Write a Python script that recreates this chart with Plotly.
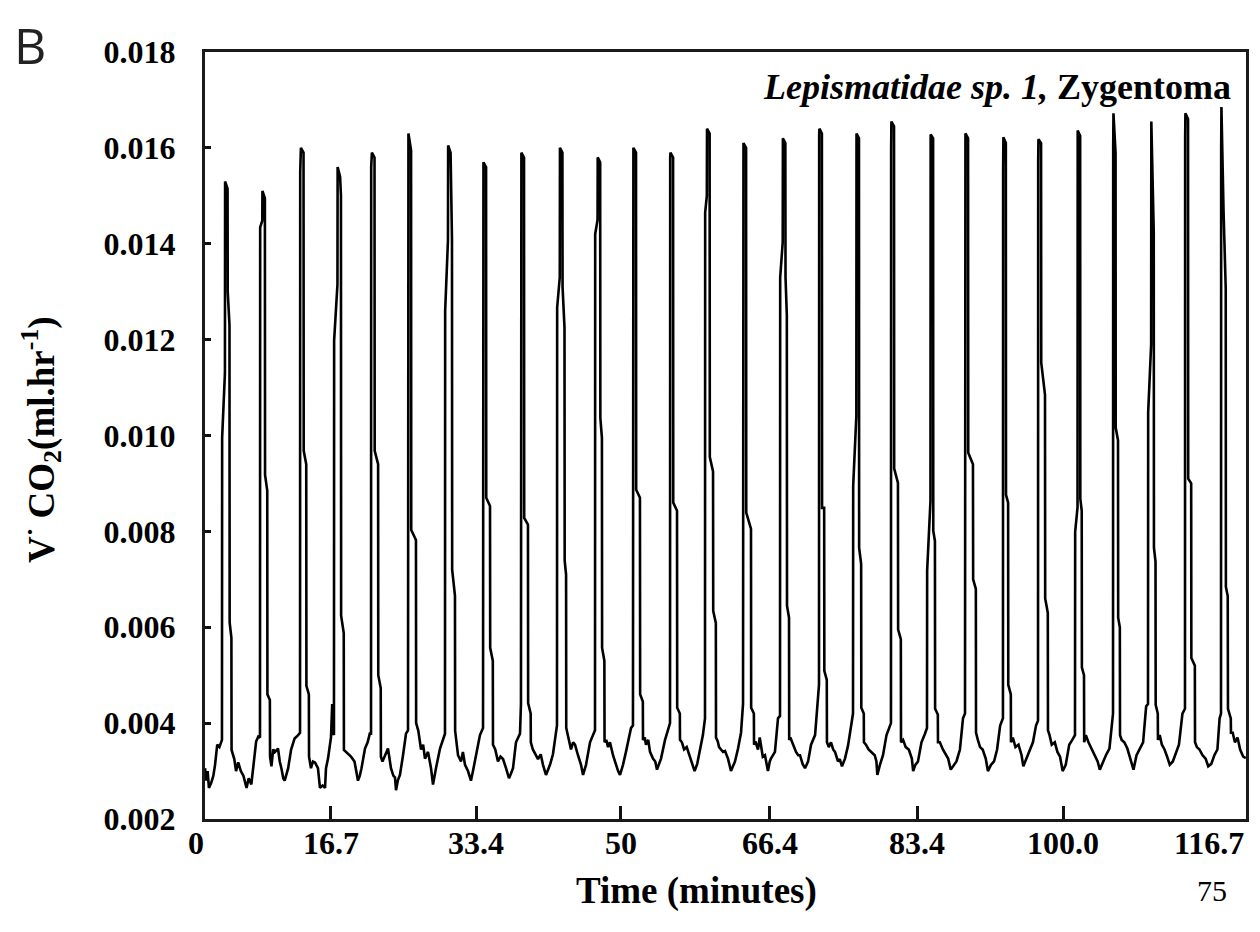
import plotly.graph_objects as go

# ---------------- data ----------------
# time (minutes) and V.CO2 (ml/hr); one line per segment (baseline B / spike P)
time_min = [
    0.00, 0.15, 0.30, 0.45, 0.70, 0.95, 1.15, 1.40, 1.65, 1.94,  # B0
    1.96, 2.28, 2.30, 2.58, 2.60, 2.80, 2.82, 3.02, 3.04,  # P1
    3.10, 3.35, 3.55, 3.80, 4.10, 4.40, 4.75, 5.00, 5.30, 5.60, 5.85, 6.10, 6.29,  # B1
    6.31, 6.55, 6.57, 6.85, 6.87, 7.12, 7.14, 7.42, 7.44,  # P2
    7.60, 7.80, 8.00, 8.35, 8.55, 8.75, 8.95, 9.11, 9.30, 9.50, 9.85, 10.25, 10.65, 10.87,  # B2
    10.89, 10.95, 10.97, 11.27, 11.29, 11.58, 11.60, 11.88, 11.90,  # P3
    12.12, 12.35, 12.58, 12.92, 13.15, 13.45, 13.73, 13.84, 14.07, 14.41, 14.55, 14.64, 14.75,  # B3
    14.77, 15.15, 15.17, 15.45, 15.55, 15.57, 15.87, 15.89,  # P4
    16.10, 16.40, 16.70, 17.10, 17.30, 17.50, 17.70, 17.90, 18.30, 18.60, 18.85, 18.99,  # B4
    19.01, 19.07, 19.09, 19.39, 19.41, 19.80, 19.82, 20.10, 20.12,  # P5
    20.30, 20.55, 20.93, 21.27, 21.55, 21.73, 21.85, 22.05, 22.30, 22.65, 22.99, 23.22,  # B5
    23.24, 23.27, 23.57, 23.59, 24.13, 24.15, 24.40,  # P6
    24.71, 24.95, 25.16, 25.51, 25.85, 26.08, 26.25, 26.42, 26.88, 27.22, 27.45,  # B6
    27.47, 27.79, 27.81, 28.09, 28.25, 28.27, 28.59, 28.61,  # P7
    28.94, 29.28, 29.50, 29.74, 30.08, 30.42, 30.65, 31.00, 31.45, 31.80,  # B7
    31.82, 31.85, 32.15, 32.17, 32.60, 32.62, 32.92, 32.94,  # P8
    33.20, 33.51, 33.80, 34.09, 34.43, 34.77, 35.00, 35.23, 35.57, 36.03, 36.14,  # B8
    36.16, 36.19, 36.49, 36.51, 36.94, 36.96, 37.25, 37.27,  # P9
    37.50, 37.75, 38.09, 38.40, 38.66, 39.00, 39.20, 39.46, 39.80, 40.15, 40.26,  # B9
    40.28, 40.58, 40.60, 40.88, 40.90, 41.12, 41.14, 41.30, 41.32,  # P10
    41.55, 41.86, 42.10, 42.32, 42.66, 43.01, 43.24, 43.58, 44.04, 44.38, 44.61,  # B10
    44.63, 44.90, 44.92, 45.20, 45.22, 45.40, 45.42, 45.68, 45.70,  # P11
    45.90, 46.10, 46.32, 46.67, 47.01, 47.25, 47.47, 47.81, 48.15, 48.73, 48.95,  # B11
    48.97, 49.00, 49.30, 49.32, 49.75, 49.77, 50.08, 50.10,  # P12
    50.30, 50.44, 50.70, 50.90, 51.24, 51.50, 51.70, 51.95, 52.16, 52.62, 52.96, 53.19,  # B12
    53.21, 53.24, 53.54, 53.56, 53.99, 54.01, 54.31, 54.33,  # P13
    54.55, 54.80, 55.10, 55.45, 55.75, 56.00, 56.30, 56.60, 56.95, 57.19,  # B13
    57.21, 57.40, 57.42, 57.72, 57.74, 58.11, 58.13, 58.43, 58.45,  # P14
    58.65, 58.80, 59.02, 59.25, 59.48, 59.82, 60.16, 60.40, 60.62, 60.97, 61.31, 61.54,  # B14
    61.56, 61.59, 61.89, 61.91, 62.45, 62.47, 62.78, 62.80,  # P15
    62.95, 63.25, 63.45, 63.59, 63.80, 64.05, 64.39, 64.60, 64.73, 65.19, 65.54, 65.77,  # B15
    65.79, 66.08, 66.10, 66.38, 66.40, 66.55, 66.57, 66.80, 66.82,  # P16
    66.95, 67.26, 67.60, 67.85, 68.06, 68.35, 68.63, 68.98, 69.32, 69.78, 70.12, 70.23,  # B16
    70.25, 70.28, 70.56, 70.58, 70.82, 70.84, 71.12, 71.14,  # P17
    71.35, 71.60, 71.85, 72.06, 72.40, 72.60, 72.86, 73.20, 73.55, 73.89, 74.12,  # B17
    74.14, 74.50, 74.52, 74.80, 74.82, 75.05, 75.07, 75.35, 75.37,  # P18
    75.60, 75.90, 76.20, 76.60, 76.80, 76.90, 77.20, 77.55, 77.95, 78.46,  # B18
    78.48, 78.51, 78.81, 78.83, 79.26, 79.28, 79.59, 79.61,  # P19
    79.85, 80.15, 80.50, 80.85, 81.00, 81.25, 81.55, 81.95, 82.35, 82.58,  # B19
    82.60, 82.98, 83.00, 83.28, 83.30, 83.49, 83.51, 83.82, 83.84,  # P20
    84.05, 84.40, 84.75, 85.00, 85.30, 85.60, 85.95, 86.35, 86.70, 86.93,  # B20
    86.95, 86.98, 87.28, 87.30, 87.84, 87.86, 88.17, 88.19,  # P21
    88.40, 88.65, 88.95, 89.30, 89.55, 89.90, 90.25, 90.60, 90.95, 91.27,  # B21
    91.29, 91.32, 91.60, 91.62, 91.86, 91.88, 92.17, 92.19,  # P22
    92.40, 92.70, 93.05, 93.40, 93.60, 93.95, 94.30, 94.70, 95.05, 95.28,  # B22
    95.30, 95.33, 95.63, 95.65, 96.08, 96.10, 96.40, 96.42,  # P23
    96.60, 96.85, 97.20, 97.50, 97.80, 98.10, 98.45, 98.85, 99.20, 99.51,  # B23
    99.53, 99.80, 99.82, 100.10, 100.12, 100.28, 100.30, 100.54, 100.56,  # P24
    100.75, 101.05, 101.40, 101.80, 102.10, 102.35, 102.70, 103.05, 103.45, 103.86,  # B24
    103.88, 103.91, 104.15, 104.17, 104.43, 104.45, 104.64, 104.66,  # P25
    104.85, 105.15, 105.50, 105.85, 106.20, 106.55, 106.90, 107.30, 107.65, 107.86,  # B25
    107.88, 108.22, 108.24, 108.45, 108.52, 108.54, 108.72, 108.74, 108.98, 109.00,  # P26
    109.20, 109.45, 109.75, 110.05, 110.35, 110.70, 111.05, 111.40, 111.80, 112.09,  # B26
    112.11, 112.14, 112.44, 112.46, 112.80, 112.82, 113.22, 113.24,  # P27
    113.45, 113.75, 114.10, 114.45, 114.75, 115.10, 115.45, 115.80, 116.05, 116.21,  # B27
    116.23, 116.26, 116.50, 116.75, 116.77, 116.98, 117.01, 117.33, 117.35,  # P28
    117.55, 117.80, 118.10, 118.40, 118.75, 119.05,  # B28
]

vco2_ml_hr = [
    0.00306, 0.00280, 0.00300, 0.00265, 0.00275, 0.00290, 0.00313, 0.00355, 0.00350, 0.00365,  # B0
    0.00995, 0.01130, 0.01530, 0.01515, 0.01300, 0.01230, 0.00610, 0.00578, 0.00344,  # P1
    0.00340, 0.00325, 0.00300, 0.00318, 0.00300, 0.00290, 0.00265, 0.00285, 0.00272, 0.00330, 0.00362, 0.00372, 0.00370,  # B1
    0.01434, 0.01448, 0.01510, 0.01495, 0.00918, 0.00885, 0.00460, 0.00448, 0.00330,  # P2
    0.00310, 0.00345, 0.00340, 0.00347, 0.00320, 0.00305, 0.00285, 0.00280, 0.00292, 0.00305, 0.00345, 0.00368, 0.00375, 0.00380,  # B2
    0.01550, 0.01570, 0.01600, 0.01590, 0.00968, 0.00940, 0.00478, 0.00460, 0.00330,  # P3
    0.00306, 0.00320, 0.00318, 0.00306, 0.00265, 0.00270, 0.00265, 0.00306, 0.00326, 0.00370, 0.00440, 0.00380, 0.00375,  # B3
    0.01198, 0.01315, 0.01560, 0.01540, 0.01500, 0.00624, 0.00588, 0.00344,  # P4
    0.00340, 0.00336, 0.00330, 0.00320, 0.00300, 0.00280, 0.00290, 0.00306, 0.00347, 0.00360, 0.00378, 0.00378,  # B4
    0.01560, 0.01575, 0.01590, 0.01580, 0.00968, 0.00940, 0.00500, 0.00473, 0.00330,  # P5
    0.00320, 0.00330, 0.00347, 0.00306, 0.00290, 0.00287, 0.00260, 0.00280, 0.00292, 0.00333, 0.00378, 0.00385,  # B5
    0.01600, 0.01630, 0.01595, 0.00803, 0.00782, 0.00400, 0.00384,  # P6
    0.00345, 0.00355, 0.00326, 0.00340, 0.00306, 0.00272, 0.00290, 0.00306, 0.00347, 0.00368, 0.00378,  # B6
    0.01260, 0.01407, 0.01605, 0.01590, 0.01410, 0.00720, 0.00666, 0.00384,  # P7
    0.00333, 0.00320, 0.00340, 0.00313, 0.00300, 0.00280, 0.00300, 0.00333, 0.00375, 0.00390,  # B7
    0.01550, 0.01570, 0.01560, 0.00870, 0.00853, 0.00557, 0.00530, 0.00355,  # P8
    0.00345, 0.00320, 0.00330, 0.00325, 0.00306, 0.00285, 0.00295, 0.00306, 0.00360, 0.00378, 0.00440,  # B8
    0.01570, 0.01590, 0.01580, 0.00828, 0.00814, 0.00442, 0.00420, 0.00360,  # P9
    0.00345, 0.00335, 0.00325, 0.00335, 0.00313, 0.00292, 0.00300, 0.00313, 0.00335, 0.00390, 0.00395,  # B9
    0.01267, 0.01330, 0.01600, 0.01590, 0.01309, 0.01225, 0.00739, 0.00710, 0.00390,  # P10
    0.00370, 0.00345, 0.00360, 0.00355, 0.00333, 0.00313, 0.00292, 0.00313, 0.00360, 0.00375, 0.00385,  # B10
    0.01420, 0.01450, 0.01580, 0.01570, 0.01037, 0.00995, 0.00557, 0.00530, 0.00360,  # P11
    0.00365, 0.00350, 0.00360, 0.00333, 0.00313, 0.00300, 0.00292, 0.00313, 0.00340, 0.00390, 0.00395,  # B11
    0.01590, 0.01600, 0.01590, 0.00887, 0.00870, 0.00460, 0.00445, 0.00365,  # P12
    0.00370, 0.00355, 0.00365, 0.00340, 0.00326, 0.00320, 0.00303, 0.00315, 0.00326, 0.00365, 0.00385, 0.00400,  # B12
    0.01580, 0.01590, 0.01580, 0.00860, 0.00843, 0.00432, 0.00420, 0.00365,  # P13
    0.00360, 0.00345, 0.00350, 0.00330, 0.00310, 0.00300, 0.00315, 0.00345, 0.00375, 0.00410,  # B13
    0.01465, 0.01500, 0.01640, 0.01630, 0.00955, 0.00925, 0.00634, 0.00609, 0.00370,  # P14
    0.00362, 0.00350, 0.00345, 0.00340, 0.00342, 0.00326, 0.00300, 0.00310, 0.00320, 0.00347, 0.00380, 0.00440,  # B14
    0.01600, 0.01610, 0.01600, 0.00839, 0.00805, 0.00432, 0.00420, 0.00355,  # P15
    0.00362, 0.00345, 0.00370, 0.00355, 0.00330, 0.00333, 0.00300, 0.00320, 0.00326, 0.00340, 0.00410, 0.00415,  # B15
    0.01330, 0.01403, 0.01620, 0.01610, 0.01330, 0.01251, 0.00645, 0.00620, 0.00365,  # P16
    0.00370, 0.00356, 0.00340, 0.00333, 0.00333, 0.00315, 0.00306, 0.00320, 0.00355, 0.00375, 0.00470, 0.00480,  # B16
    0.01630, 0.01640, 0.01630, 0.00849, 0.00849, 0.00509, 0.00490, 0.00360,  # P17
    0.00350, 0.00360, 0.00345, 0.00340, 0.00320, 0.00325, 0.00310, 0.00326, 0.00353, 0.00395, 0.00420,  # B17
    0.00895, 0.01041, 0.01630, 0.01620, 0.00766, 0.00732, 0.00432, 0.00420, 0.00360,  # P18
    0.00355, 0.00345, 0.00340, 0.00333, 0.00320, 0.00292, 0.00313, 0.00333, 0.00375, 0.00400,  # B18
    0.01595, 0.01655, 0.01645, 0.00931, 0.00901, 0.00595, 0.00575, 0.00360,  # P19
    0.00365, 0.00350, 0.00345, 0.00326, 0.00300, 0.00313, 0.00320, 0.00360, 0.00378, 0.00390,  # B19
    0.00718, 0.00864, 0.01628, 0.01620, 0.00801, 0.00780, 0.00430, 0.00418, 0.00360,  # P20
    0.00360, 0.00345, 0.00333, 0.00326, 0.00303, 0.00310, 0.00320, 0.00345, 0.00410, 0.00420,  # B20
    0.01565, 0.01630, 0.01620, 0.00964, 0.00940, 0.00700, 0.00680, 0.00380,  # P21
    0.00365, 0.00350, 0.00345, 0.00326, 0.00300, 0.00313, 0.00320, 0.00345, 0.00395, 0.00410,  # B21
    0.01550, 0.01622, 0.01610, 0.00876, 0.00860, 0.00480, 0.00460, 0.00360,  # P22
    0.00370, 0.00350, 0.00355, 0.00333, 0.00310, 0.00326, 0.00345, 0.00360, 0.00395, 0.00405,  # B22
    0.01570, 0.01618, 0.01610, 0.01152, 0.01085, 0.00660, 0.00630, 0.00385,  # P23
    0.00375, 0.00355, 0.00360, 0.00340, 0.00330, 0.00300, 0.00313, 0.00355, 0.00365, 0.00375,  # B23
    0.00799, 0.00850, 0.01636, 0.01625, 0.00868, 0.00843, 0.00516, 0.00500, 0.00360,  # P24
    0.00375, 0.00360, 0.00347, 0.00333, 0.00320, 0.00303, 0.00320, 0.00333, 0.00347, 0.00420,  # B24
    0.01600, 0.01672, 0.01590, 0.01016, 0.00990, 0.00620, 0.00600, 0.00375,  # P25
    0.00365, 0.00360, 0.00347, 0.00326, 0.00303, 0.00333, 0.00347, 0.00360, 0.00435, 0.00440,  # B25
    0.01048, 0.01190, 0.01655, 0.01497, 0.01424, 0.00766, 0.00737, 0.00438, 0.00420, 0.00365,  # P26
    0.00375, 0.00355, 0.00345, 0.00330, 0.00313, 0.00320, 0.00340, 0.00355, 0.00420, 0.00430,  # B26
    0.01620, 0.01672, 0.01660, 0.00910, 0.00900, 0.00536, 0.00520, 0.00360,  # P27
    0.00350, 0.00345, 0.00333, 0.00326, 0.00310, 0.00315, 0.00333, 0.00345, 0.00410, 0.00420,  # B27
    0.01600, 0.01685, 0.01470, 0.01307, 0.00684, 0.00665, 0.00430, 0.00410, 0.00380,  # P28
    0.00380, 0.00360, 0.00370, 0.00345, 0.00330, 0.00327,  # B28
]

assert len(time_min) == len(vco2_ml_hr), (len(time_min), len(vco2_ml_hr))

# x-axis: tick marks and the printed labels
X_MAX = 119.07
x_tick_marks_min = [14.41, 31.00, 47.58, 64.62, 81.44, 98.14]
x_label_text = ["0", "16.7", "33.4", "50", "66.4", "83.4", "100.0", "116.7"]
x_label_pos_min = [-1.03, 14.41, 31.00, 47.58, 64.62, 81.44, 98.14, 114.84]

y_tick_vals = [0.002, 0.004, 0.006, 0.008, 0.010, 0.012, 0.014, 0.016, 0.018]
y_tick_text = ["0.002", "0.004", "0.006", "0.008", "0.010", "0.012", "0.014", "0.016", "0.018"]

# ---------------- figure ----------------
SERIF = "Liberation Serif"
W, H = 1260, 932
L, R, T, B = 197, 22, 44, 121
pw, ph = W - L - R, H - T - B


def px_x(px):
    return (px - L) / pw


def px_y(py):
    return (H - B - py) / ph


fig = go.Figure()
fig.add_trace(go.Scatter(
    x=time_min, y=vco2_ml_hr, mode="lines",
    line=dict(color="black", width=2.6),
    hoverinfo="skip", showlegend=False,
))

fig.update_layout(
    width=W, height=H,
    margin=dict(l=L, r=R, t=T, b=B, pad=0),
    paper_bgcolor="white", plot_bgcolor="white",
    font=dict(family=SERIF, color="black"),
    showlegend=False,
)

fig.update_xaxes(
    range=[0, X_MAX], automargin=False,
    tickvals=x_tick_marks_min, showticklabels=False,
    ticks="inside", ticklen=13, tickwidth=2.5, tickcolor="#111",
    showline=True, linewidth=3, linecolor="#1a1a1a", mirror=True,
    showgrid=False, zeroline=False,
)
fig.update_yaxes(
    range=[0.002, 0.018], automargin=False,
    tickvals=y_tick_vals, ticktext=y_tick_text,
    ticks="inside", ticklen=6, tickwidth=2.5, tickcolor="#111",
    tickfont=dict(family=SERIF, size=32, color="black", weight="bold"),
    ticklabelstandoff=20,
    showline=True, linewidth=3, linecolor="#1a1a1a", mirror=True,
    showgrid=False, zeroline=False,
)

annotations = []
for txt, xv in zip(x_label_text, x_label_pos_min):
    annotations.append(dict(
        x=xv / X_MAX, xref="paper", y=px_y(835), yref="paper",
        text=f"<b>{txt}</b>", showarrow=False,
        xanchor="center", yanchor="middle",
        font=dict(family=SERIF, size=32, color="black"),
    ))

annotations += [
    dict(x=px_x(688), xref="paper", y=px_y(883), yref="paper",
         text="<b>Time (minutes)</b>", showarrow=False,
         xanchor="center", yanchor="middle",
         font=dict(family=SERIF, size=37, color="black")),
    dict(x=px_x(33), xref="paper", y=px_y(432), yref="paper",
         text="<b>V<sup>·</sup> CO<sub>2</sub>(ml.hr<sup>-1</sup>)</b>",
         textangle=-90, showarrow=False,
         xanchor="center", yanchor="middle",
         font=dict(family=SERIF, size=37, color="black")),
    dict(x=px_x(1225), xref="paper", y=px_y(79), yref="paper",
         text="<b><i>Lepismatidae sp. 1,</i> Zygentoma</b>", showarrow=False,
         xanchor="right", yanchor="middle",
         font=dict(family=SERIF, size=36, color="black")),
    dict(x=px_x(22), xref="paper", y=px_y(37), yref="paper",
         text="B", showarrow=False,
         xanchor="center", yanchor="middle",
         font=dict(family="Open Sans", size=50, color="#222")),
    dict(x=px_x(1204), xref="paper", y=px_y(883), yref="paper",
         text="75", showarrow=False,
         xanchor="center", yanchor="middle",
         font=dict(family=SERIF, size=30, color="black")),
]
fig.update_layout(annotations=annotations)

fig.write_html("out.html")
